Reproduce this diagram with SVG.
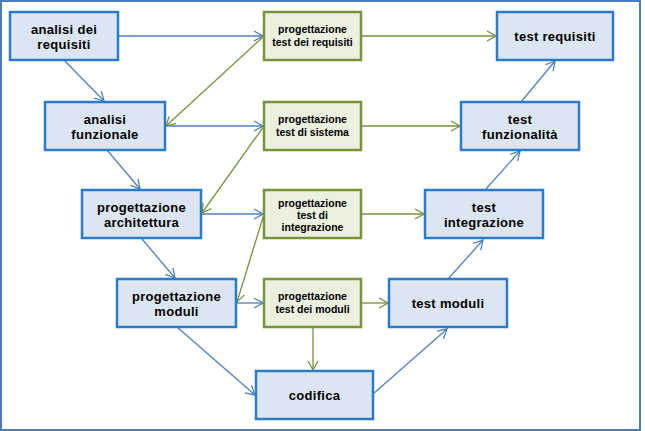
<svg xmlns="http://www.w3.org/2000/svg" width="645" height="431" viewBox="0 0 645 431">
<style>
.frame{fill:#ffffff;stroke:#4a7ebb;stroke-width:2}
.bb{fill:#dce6f2;stroke:#2b7bc6;stroke-width:2.5}
.gb{fill:#ebf1de;stroke:#77933c;stroke-width:2.5}
.bt{font-family:"Liberation Sans",Arial,sans-serif;font-weight:bold;font-size:13px;fill:#000;text-anchor:middle;letter-spacing:0.3px}
.gt{font-family:"Liberation Sans",Arial,sans-serif;font-weight:bold;font-size:10.5px;fill:#000;text-anchor:middle}
.cb{fill:none;stroke:#4f81bd;stroke-width:1.3;marker-end:url(#ab)}
.cg{fill:none;stroke:#77933c;stroke-width:1.3;marker-end:url(#ag)}
</style>
<defs>
<marker id="ab" markerUnits="userSpaceOnUse" viewBox="-11 -6 12 12" refX="0" refY="0" markerWidth="12" markerHeight="12" orient="auto">
<path d="M-9,-5 L0,0 L-9,5" fill="none" stroke="#4f81bd" stroke-width="1.3"/>
</marker>
<marker id="ag" markerUnits="userSpaceOnUse" viewBox="-11 -6 12 12" refX="0" refY="0" markerWidth="12" markerHeight="12" orient="auto">
<path d="M-9,-5 L0,0 L-9,5" fill="none" stroke="#77933c" stroke-width="1.3"/>
</marker>
</defs>
<rect class="frame" x="1" y="1" width="639" height="429"/>
<g id="connectors">
<line class="cb" x1="118" y1="36" x2="263" y2="36"/>
<line class="cb" x1="64" y1="60" x2="104" y2="101"/>
<line class="cb" x1="165" y1="126" x2="263" y2="126"/>
<line class="cb" x1="107" y1="150" x2="140" y2="189"/>
<line class="cb" x1="201" y1="214" x2="263" y2="214"/>
<line class="cb" x1="142" y1="239" x2="175" y2="278"/>
<line class="cb" x1="236" y1="303" x2="263" y2="303"/>
<line class="cb" x1="177" y1="327" x2="255" y2="395"/>
<line class="cb" x1="373" y1="394" x2="447" y2="329"/>
<line class="cb" x1="448" y1="279" x2="483" y2="240"/>
<line class="cb" x1="485" y1="190" x2="520" y2="151"/>
<line class="cb" x1="521" y1="102" x2="555" y2="61"/>
<line class="cg" x1="361" y1="36" x2="496" y2="36"/>
<line class="cg" x1="264" y1="36" x2="166" y2="126"/>
<line class="cg" x1="361" y1="126" x2="460" y2="126"/>
<line class="cg" x1="264" y1="126" x2="202" y2="213"/>
<line class="cg" x1="361" y1="214" x2="424" y2="214"/>
<line class="cg" x1="264" y1="214" x2="237" y2="302"/>
<line class="cg" x1="361" y1="303" x2="388" y2="303"/>
<line class="cg" x1="313" y1="327" x2="313" y2="370"/>
</g>
<g id="analisi-requisiti"><rect class="bb" x="10" y="12" width="108" height="48"/><text class="bt" x="64" y="33.5">analisi dei</text><text class="bt" x="64" y="48.5">requisiti</text></g>
<g id="analisi-funzionale"><rect class="bb" x="45" y="102" width="120" height="48"/><text class="bt" x="105" y="123.5">analisi</text><text class="bt" x="105" y="138.5">funzionale</text></g>
<g id="progettazione-architettura"><rect class="bb" x="82" y="190" width="119" height="48"/><text class="bt" x="141.5" y="211.5">progettazione</text><text class="bt" x="141.5" y="226.5">architettura</text></g>
<g id="progettazione-moduli"><rect class="bb" x="117" y="279" width="119" height="48"/><text class="bt" x="176.5" y="300.5">progettazione</text><text class="bt" x="176.5" y="315.5">moduli</text></g>
<g id="codifica"><rect class="bb" x="256" y="371" width="117" height="48"/><text class="bt" x="314.5" y="399.5">codifica</text></g>
<g id="test-moduli"><rect class="bb" x="389" y="279" width="118" height="48"/><text class="bt" x="448" y="307.5">test moduli</text></g>
<g id="test-integrazione"><rect class="bb" x="425" y="190" width="118" height="48"/><text class="bt" x="484" y="211.5">test</text><text class="bt" x="484" y="226.5">integrazione</text></g>
<g id="test-funzionalita"><rect class="bb" x="461" y="102" width="118" height="48"/><text class="bt" x="520" y="123.5">test</text><text class="bt" x="520" y="138.5">funzionalità</text></g>
<g id="test-requisiti"><rect class="bb" x="497" y="12" width="116" height="48"/><text class="bt" x="555" y="40.5">test requisiti</text></g>
<g id="prog-test-requisiti"><rect class="gb" x="264" y="12" width="97" height="48"/><text class="gt" x="312.5" y="33">progettazione</text><text class="gt" x="312.5" y="46">test dei requisiti</text></g>
<g id="prog-test-sistema"><rect class="gb" x="264" y="102" width="97" height="48"/><text class="gt" x="312.5" y="123">progettazione</text><text class="gt" x="312.5" y="136">test di sistema</text></g>
<g id="prog-test-integrazione"><rect class="gb" x="264" y="190" width="97" height="48"/><text class="gt" x="312.5" y="207">progettazione</text><text class="gt" x="312.5" y="219">test di</text><text class="gt" x="312.5" y="231">integrazione</text></g>
<g id="prog-test-moduli"><rect class="gb" x="264" y="279" width="97" height="48"/><text class="gt" x="312.5" y="300">progettazione</text><text class="gt" x="312.5" y="313">test dei moduli</text></g>
</svg>
